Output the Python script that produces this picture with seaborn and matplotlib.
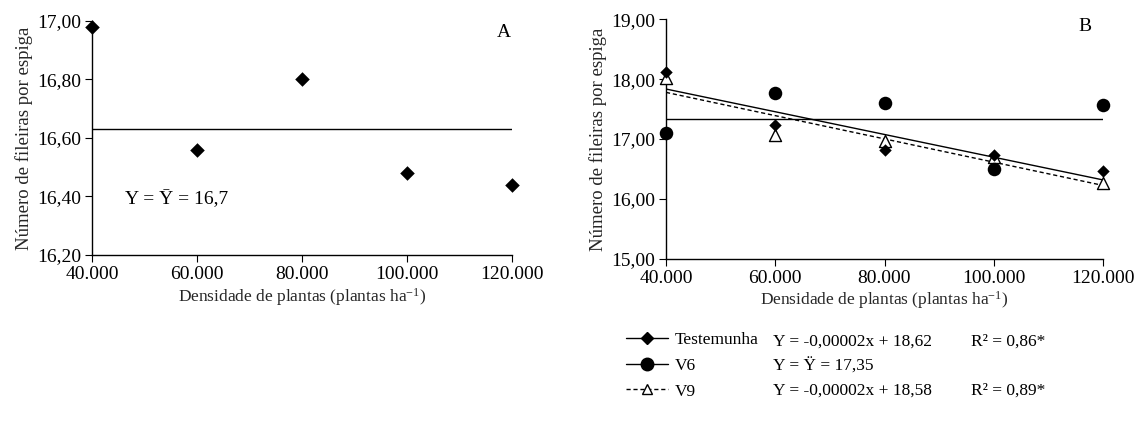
import numpy as np
import pandas as pd
import matplotlib
matplotlib.use("Agg")
import matplotlib.pyplot as plt
import matplotlib.ticker as mticker
from matplotlib.lines import Line2D
import seaborn as sns

# densities (plants per ha)
DENSITY = [40000, 60000, 80000, 100000, 120000]

# panel A
ROWS_A = [16.98, 16.56, 16.80, 16.48, 16.44]
MEAN_A = 16.63

# panel B
TESTEMUNHA = [18.12, 17.23, 16.82, 16.73, 16.47]
V6 = [17.10, 17.76, 17.60, 16.50, 17.56]
V9 = [18.02, 17.06, 16.97, 16.69, 16.26]
MEAN_V6 = 17.33

sns.set_style("ticks")
plt.rcParams.update({
    "font.family": ["Liberation Serif", "DejaVu Serif"],
    "mathtext.fontset": "custom",
    "mathtext.rm": "Liberation Serif",
    "mathtext.it": "Liberation Serif:italic",
    "axes.edgecolor": "black",
    "axes.linewidth": 1.0,
    "xtick.color": "black",
    "ytick.color": "black",
    "xtick.major.size": 5,
    "ytick.major.size": 5,
    "xtick.direction": "out",
    "ytick.direction": "out",
    "text.color": "black",
})

TICK_FS = 14
XLABEL = "Densidade de plantas (plantas ha$^{-1}$)"
YLABEL = "Número de fileiras por espiga"

fig = plt.figure(figsize=(11.4, 4.23), dpi=100)
axA = fig.add_axes([92 / 1140, 1 - 255 / 423, 420 / 1140, 234.3 / 423])
axB = fig.add_axes([666 / 1140, 1 - 258.5 / 423, 437 / 1140, 239.2 / 423])

xfmt = mticker.FuncFormatter(lambda v, p: f"{int(v):,}".replace(",", "."))
yfmt = mticker.FuncFormatter(lambda v, p: f"{v:.2f}".replace(".", ","))

# ---- panel A
dfA = pd.DataFrame({"x": DENSITY, "y": ROWS_A})
sns.scatterplot(data=dfA, x="x", y="y", ax=axA, marker="D", s=55, color="black",
                edgecolor="black", linewidth=0, clip_on=False, zorder=3)
axA.axhline(MEAN_A, color="black", linewidth=1.0)
axA.set_ylim(16.2, 17.0)
axA.set_yticks(np.arange(16.2, 17.01, 0.2))
axA.text(0.079, 0.239, "Y = Ȳ = 16,7", transform=axA.transAxes, fontsize=14, va="center")
axA.text(0.98, 0.948, "A", transform=axA.transAxes, fontsize=14, ha="center", va="center")

# ---- panel B
dfT = pd.DataFrame({"x": DENSITY, "y": TESTEMUNHA})
df6 = pd.DataFrame({"x": DENSITY, "y": V6})
df9 = pd.DataFrame({"x": DENSITY, "y": V9})

sns.regplot(data=dfT, x="x", y="y", ax=axB, scatter=False, ci=None,
            line_kws={"color": "black", "linewidth": 1.0})
sns.regplot(data=df9, x="x", y="y", ax=axB, scatter=False, ci=None,
            line_kws={"color": "black", "linewidth": 1.0, "linestyle": (0, (3, 2))})
axB.axhline(MEAN_V6, color="black", linewidth=1.0)

sns.scatterplot(data=df9, x="x", y="y", ax=axB, marker="^", s=75, facecolor="white",
                edgecolor="black", linewidth=1.0, clip_on=False, zorder=3)
sns.scatterplot(data=df6, x="x", y="y", ax=axB, marker="o", s=95, color="black",
                linewidth=0, clip_on=False, zorder=4)
sns.scatterplot(data=dfT, x="x", y="y", ax=axB, marker="D", s=40, color="black",
                linewidth=0, clip_on=False, zorder=5)
axB.set_ylim(15.0, 19.0)
axB.set_yticks(np.arange(15, 19.01, 1.0))
axB.text(0.959, 0.968, "B", transform=axB.transAxes, fontsize=14, ha="center", va="center")

for ax in (axA, axB):
    ax.set_xlim(40000, 120000)
    ax.set_xticks(DENSITY)
    ax.xaxis.set_major_formatter(xfmt)
    ax.yaxis.set_major_formatter(yfmt)
    ax.tick_params(labelsize=TICK_FS, pad=3)
    ax.set_xlabel(XLABEL, fontsize=12.5, labelpad=2)
    ax.set_ylabel(YLABEL, fontsize=13.5, labelpad=3)
    sns.despine(ax=ax)
    ax.grid(False)

# ---- legend under panel B
handles = [
    Line2D([], [], color="black", linewidth=1.0, marker="D", markersize=6),
    Line2D([], [], color="black", linewidth=1.0, marker="o", markersize=9),
    Line2D([], [], color="black", linewidth=1.0, linestyle=(0, (3, 2)), marker="^",
           markersize=7, markerfacecolor="white"),
]
fig.legend(handles, ["Testemunha", "V6", "V9"], loc="upper left",
           bbox_to_anchor=(626 / 1140, 1 - 332 / 423), frameon=False, fontsize=12.5,
           handlelength=2.4, handletextpad=0.4, labelspacing=0.55, borderaxespad=0,
           borderpad=0)

EQS = ["Y = -0,00002x + 18,62", "Y = Ÿ = 17,35", "Y = -0,00002x + 18,58"]
R2 = ["R² = 0,86*", "", "R² = 0,89*"]
for i, (eq, r2) in enumerate(zip(EQS, R2)):
    yy = 1 - (342 + i * 24.5) / 423
    fig.text(773 / 1140, yy, eq, fontsize=12.5, va="center")
    if r2:
        fig.text(971 / 1140, yy, r2, fontsize=12.5, va="center")

plt.savefig("out.png", dpi=100)
plt.close()
